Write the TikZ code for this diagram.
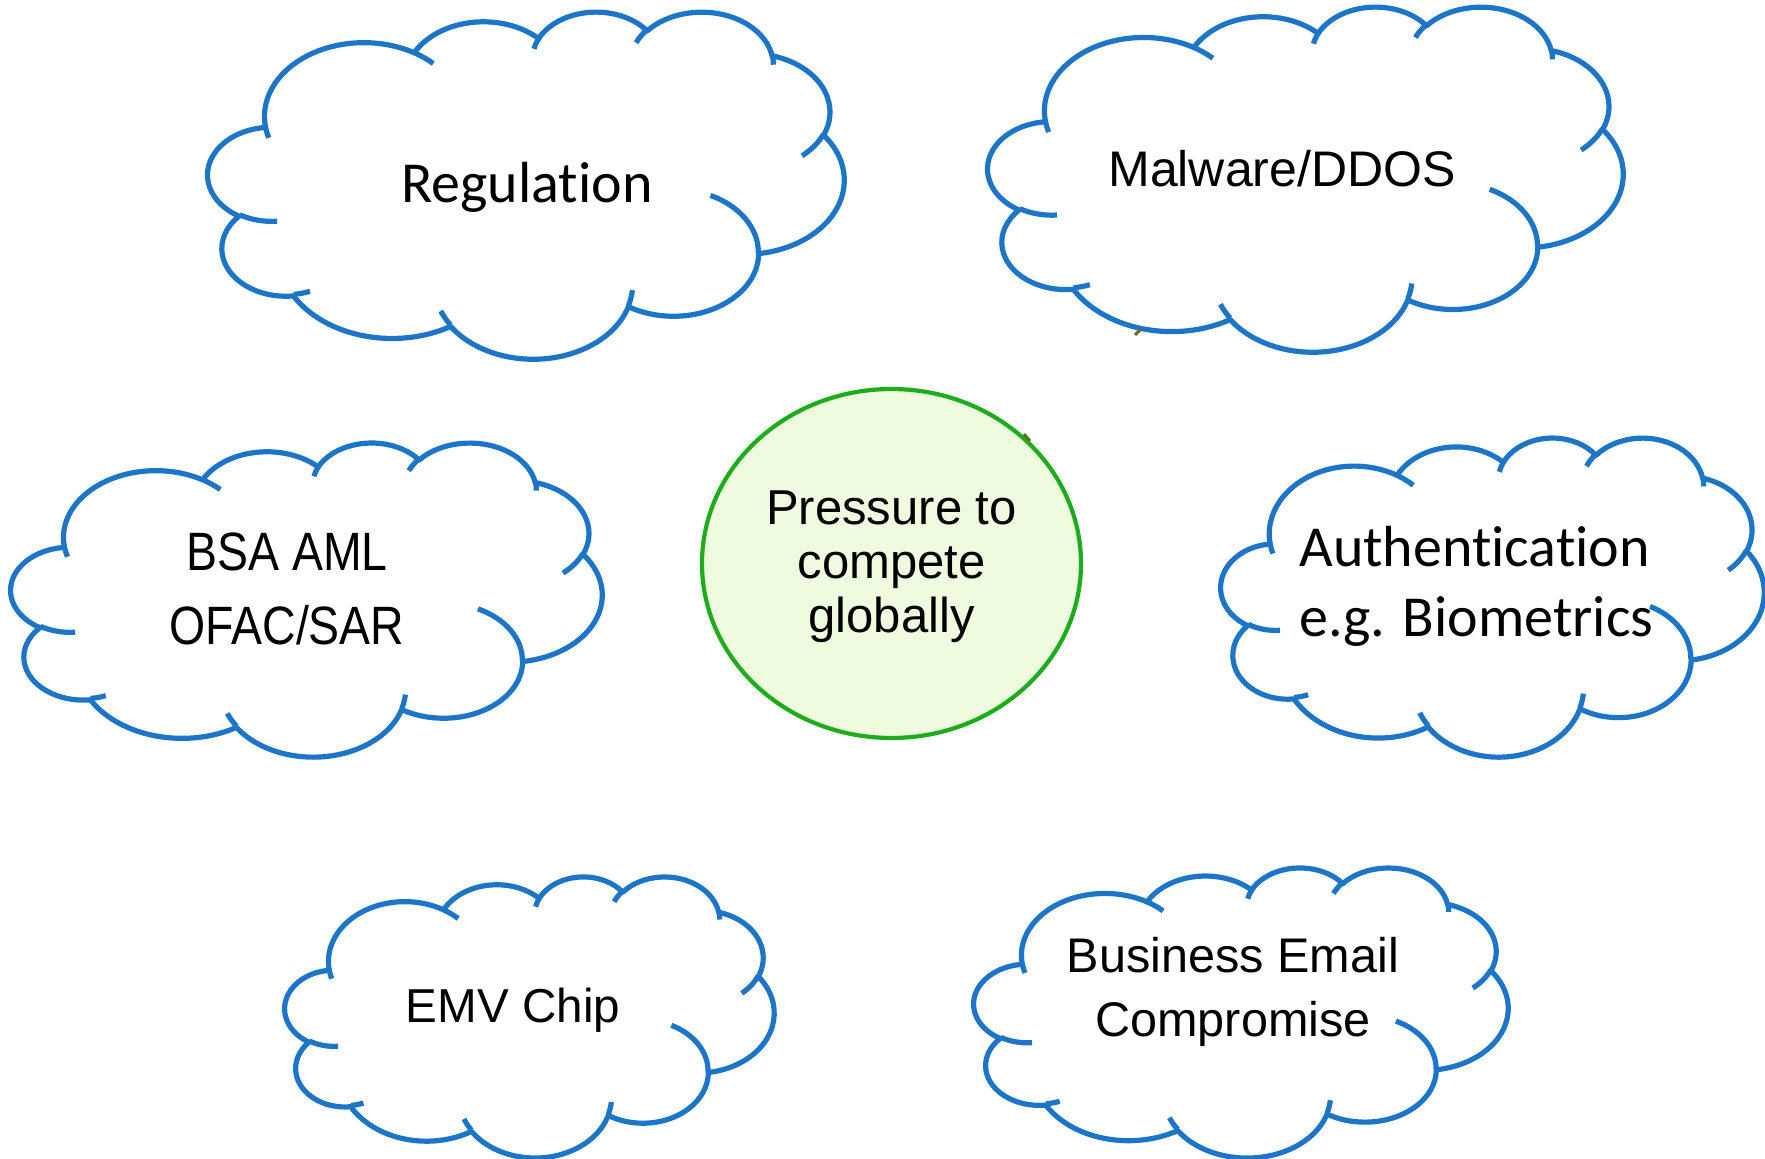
\documentclass[tikz,border=0pt]{standalone}
\usepackage{fontspec}
\setmainfont{Carlito}[Ligatures=CommonOff]
\newfontfamily\grotesk{Liberation Sans}
\newfontfamily\groteskcond{Liberation Sans}[FakeStretch=0.86]
\usepackage{tikz}
\usetikzlibrary{shapes.geometric}
\definecolor{cloudblue}{RGB}{28,117,198}
\definecolor{ringgreen}{RGB}{28,172,28}
\definecolor{ringfill}{RGB}{238,251,222}
\definecolor{tickolive}{RGB}{95,110,30}

\begin{document}
\begin{tikzpicture}[x=0.5pt, y=-0.5pt,
    cloudline/.style={draw=cloudblue, line width=2.6pt, line join=round},
    cloudtext/.style={inner sep=0pt, align=center}]
    % Canvas
    \fill[white] (0,0) rectangle (1765,1159);
    \useasboundingbox (0,0) rectangle (1765,1159);

    % Draw the clouds: left, top, width and height of each box
    \foreach \cx/\cy/\cw/\ch in {208/11/636/347, 988/6/635/345, 11/442/591/314,
                                 1221/437/543/319, 285/876/489/281, 974/867/534/290} {
        \begin{scope}[shift={(\cx,\cy)}, xscale=\cw/432, yscale=\ch/432]
            % Outline
            \draw[cloudline, fill=white] (39,143.7)
                \foreach \rw/\rh/\sa/\da in {67.53/91.90/-190.4875/123.7805, 53.33/72.67/-144.1024/89.9452,
                                             43.65/59.45/-145.8079/99.7230, 48.57/65.95/-130.9861/117.2417,
                                             53.33/72.73/-78.7089/109.0269, 67.75/92.20/-46.2673/130.2690,
                                             57.85/78.67/0.6250/114.0333, 67.52/92.15/22.4516/115.1726,
                                             77.20/105.43/66.2426/75.7110, 43.60/59.18/-274.9421/146.7356,
                                             43.45/59.45/-246.8285/152.5189}
                    {arc[start angle={atan2(\rw*sin(\sa),\rh*cos(\sa))},
                         delta angle={mod(atan2(\rw*sin(\sa+\da),\rh*cos(\sa+\da))-atan2(\rw*sin(\sa),\rh*cos(\sa))+720,360)},
                         x radius=\rw, y radius=\rh]} -- cycle;
            % Inner arcs
            \foreach \px/\py/\rw/\rh/\sa/\da in {46.93/261.77/43.45/59.45/86.7420/26.4295,
                                                 69.28/348.99/43.60/59.18/73.6105/11.4475,
                                                 164.78/390.90/67.52/92.15/137.6242/14.0811,
                                                 288.27/347.51/67.52/92.15/6.4533/15.9984,
                                                 341.29/229.54/57.85/78.67/-70.2924/70.9174,
                                                 417.98/153.54/53.33/72.73/30.3180/27.7515,
                                                 383.24/54.26/48.57/65.95/-13.7443/14.8589,
                                                 290.78/39.52/48.57/65.95/-149.1815/18.1954,
                                                 221.41/47.20/43.65/59.45/-163.4943/17.6864,
                                                 140.00/51.92/67.53/91.90/-66.7070/12.3194,
                                                 41.27/157.89/67.53/91.90/157.6544/11.8582}
                \draw[cloudline] (\px,\py)
                    arc[start angle={atan2(\rw*sin(\sa),\rh*cos(\sa))},
                        delta angle={mod(atan2(\rw*sin(\sa+\da),\rh*cos(\sa+\da))-atan2(\rw*sin(\sa),\rh*cos(\sa))+720,360)},
                        x radius=\rw, y radius=\rh];
        \end{scope}
    }

    % Cloud labels
    \node[cloudtext, font=\fontsize{29}{35}\selectfont] (regulation) at (527,187.5) {Regulation};
    \node[cloudtext, font=\grotesk\fontsize{25}{30}\selectfont] (malware) at (1282,169) {Malware/DDOS};
    \node[cloudtext, font=\groteskcond\fontsize{27}{37}\selectfont] (bsa) at (287,589) {BSA AML\\OFAC/SAR};
    \node[cloudtext, align=left, anchor=west, font=\fontsize{29}{35}\selectfont] (authentication) at (1299,586) {Authentication\\e.g. Biometrics};
    \node[cloudtext, font=\grotesk\fontsize{23.8}{28}\selectfont] (emv) at (513,1010) {EMV Chip};
    \node[cloudtext, font=\grotesk\fontsize{24.3}{32}\selectfont] (bec) at (1233,992) {Business Email\\Compromise};

    % Centre
    \node[ellipse, draw=ringgreen, fill=ringfill, line width=2.1pt, minimum width=189.5pt, minimum height=174.5pt] (pressure) at (891.5,563.5) {};
    \node[cloudtext, font=\grotesk\fontsize{24.5}{27}\selectfont] (pressuretext) at (891.5,567) {Pressure to\\compete\\globally};

    % Small marks left over near the centre
    \draw[tickolive, line width=1.5pt] (1024,434) -- (1030,441);
    \draw[tickolive, line width=1.5pt] (1135,335) -- (1141,329);
\end{tikzpicture}
\end{document}
